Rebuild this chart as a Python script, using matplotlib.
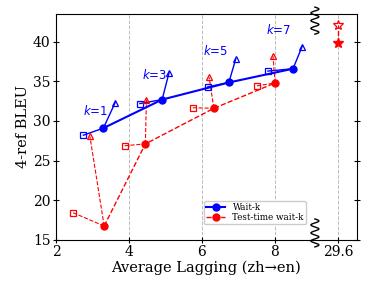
import numpy as np
import matplotlib.pyplot as plt
import matplotlib.transforms as mtransforms

# wait-k (trained), AL vs 4-ref BLEU
k_vals = [1, 3, 5, 7]
waitk_al = [3.30, 4.91, 6.74, 8.50]
waitk_bleu = [29.1, 32.7, 34.86, 36.6]
waitk_sq_al = [2.75, 4.30, 6.16, 7.81]
waitk_sq_bleu = [28.2, 32.2, 34.3, 36.3]
waitk_tri_al = [3.62, 5.10, 6.93, 8.75]
waitk_tri_bleu = [32.3, 36.1, 37.85, 39.4]

# test-time wait-k
tt_al = [3.32, 4.45, 6.33, 8.01]
tt_bleu = [16.73, 27.1, 31.6, 34.8]
tt_sq_al = [2.47, 3.88, 5.75, 7.51]
tt_sq_bleu = [18.4, 26.87, 31.67, 34.44]
tt_tri_al = [2.93, 4.48, 6.20, 7.95]
tt_tri_bleu = [28.04, 32.7, 35.5, 38.2]

# full-sentence model (AL = 29.6), drawn at a broken-axis position
full_pos = 9.73
full_bleu = 39.8
full_bleu_4ref = 42.07
break_pos = 9.1

# where the k=... labels sit (right edge, vertical centre)
klabel_x = [3.42, 5.04, 6.71, 8.44]
klabel_y = [31.2, 35.8, 38.8, 41.5]

xticks = [2, 4, 6, 8, full_pos]
xticklabels = ['2', '4', '6', '8', '29.6']

plt.rcParams['font.family'] = 'DejaVu Serif'

fig = plt.figure(figsize=(3.76, 2.82), dpi=100)
ax = fig.add_axes([0.149, 0.15, 0.80, 0.80])

for x in [4, 6, 8, full_pos]:
    ax.axvline(x, color='#bbbbbb', lw=0.7, ls='--', zorder=0)

# connectors
for i in range(4):
    ax.plot([waitk_sq_al[i], waitk_al[i]], [waitk_sq_bleu[i], waitk_bleu[i]], color='blue', lw=1)
    ax.plot([waitk_al[i], waitk_tri_al[i]], [waitk_bleu[i], waitk_tri_bleu[i]], color='blue', lw=1)
    ax.plot([tt_sq_al[i], tt_al[i]], [tt_sq_bleu[i], tt_bleu[i]], color='red', lw=0.8, ls='--')
    ax.plot([tt_al[i], tt_tri_al[i]], [tt_bleu[i], tt_tri_bleu[i]], color='red', lw=0.8, ls='--')

ax.plot(waitk_sq_al, waitk_sq_bleu, 's', mfc='none', mec='blue', ms=4, mew=0.9)
ax.plot(waitk_tri_al, waitk_tri_bleu, '^', mfc='none', mec='blue', ms=4, mew=0.9)
ax.plot(tt_sq_al, tt_sq_bleu, 's', mfc='none', mec='red', ms=4, mew=0.9)
ax.plot(tt_tri_al, tt_tri_bleu, '^', mfc='none', mec='red', ms=4, mew=0.9)

ax.plot(waitk_al, waitk_bleu, '-o', color='blue', lw=1.5, ms=5, label='Wait-k')
ax.plot(tt_al, tt_bleu, '--o', color='red', lw=1, ms=5, label='Test-time wait-k')

ax.plot([full_pos, full_pos], [full_bleu, full_bleu_4ref], color='red', lw=1, ls='--')
ax.plot(full_pos, full_bleu, '*', color='red', ms=7)
ax.plot(full_pos, full_bleu_4ref, '*', mfc='none', mec='red', ms=7, mew=0.9)

for i, k in enumerate(k_vals):
    ax.text(klabel_x[i], klabel_y[i], '$k$=%d' % k,
            color='blue', fontsize=8.5, family='DejaVu Sans', ha='right', va='center')

# broken-axis squiggles
trans = mtransforms.blended_transform_factory(ax.transData, ax.transAxes)
t = np.linspace(0, 1, 200)
wx = break_pos + 0.11 * np.sin(t * 2 * np.pi * 3.5)
ax.plot(wx, 1.031 - 0.12 * t, color='black', lw=1, transform=trans, clip_on=False)
ax.plot(wx, 0.092 - 0.124 * t, color='black', lw=1, transform=trans, clip_on=False)

ax.set_xlim(2, 10.25)
ax.set_ylim(15, 43.5)
ax.set_xticks(xticks)
ax.set_xticklabels(xticklabels)
ax.set_yticks([15, 20, 25, 30, 35, 40])
ax.tick_params(labelsize=10, right=True, direction='inout', length=4, pad=2)
ax.set_xlabel('Average Lagging (zh→en)', fontsize=10.5, labelpad=1)
ax.set_ylabel('4-ref BLEU', fontsize=10.5, labelpad=2)

ax.legend(loc='lower right', bbox_to_anchor=(0.837, 0.06), fontsize=6.3,
          framealpha=1, handlelength=2.2, borderpad=0.25, labelspacing=0.1,
          borderaxespad=0.2)

plt.savefig('out.png', dpi=100)
